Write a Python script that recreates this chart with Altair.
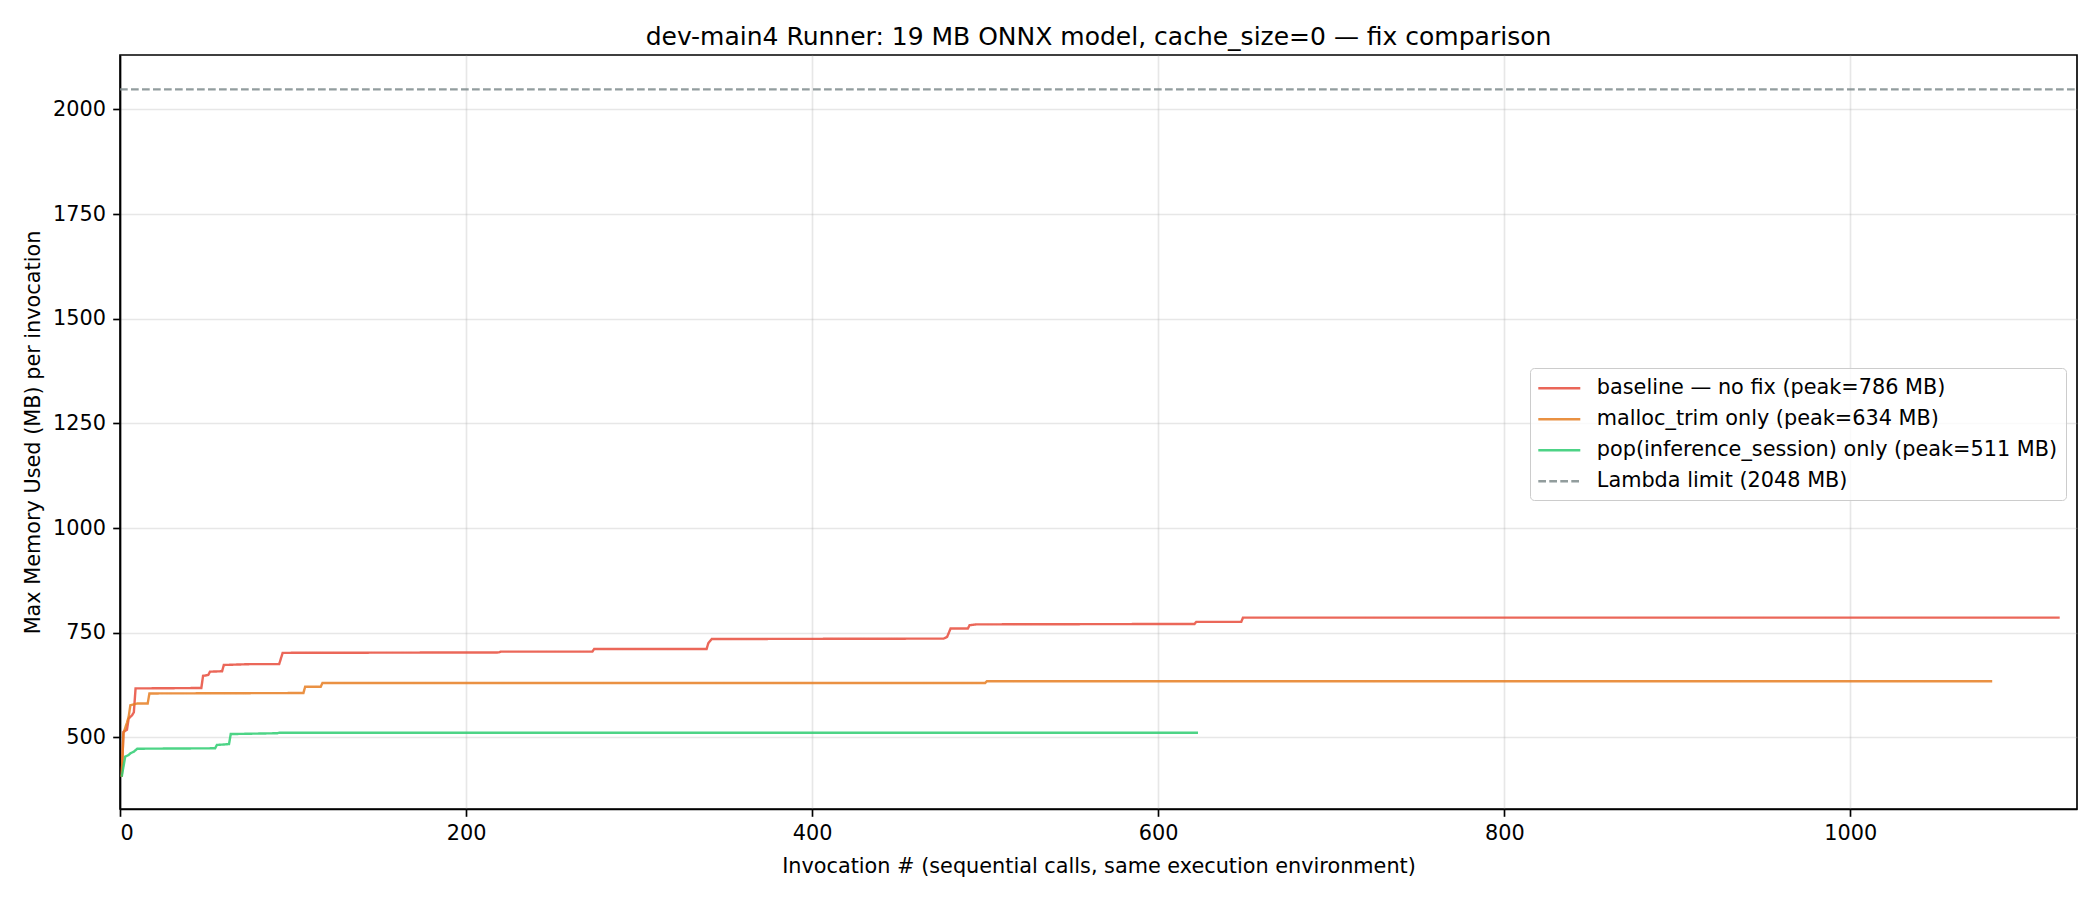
import altair as alt
import pandas as pd

title_text = "dev-main4 Runner: 19 MB ONNX model, cache_size=0 \u2014 fix comparison"
x_title = "Invocation # (sequential calls, same execution environment)"
y_title = "Max Memory Used (MB) per invocation"

series_labels = [
    "baseline \u2014 no fix (peak=786 MB)",
    "malloc_trim only (peak=634 MB)",
    "pop(inference_session) only (peak=511 MB)",
    "Lambda limit (2048 MB)",
]
series_colors = ["#e74c3c", "#e67e22", "#2ecc71", "#7f8c8d"]
series_dashes = [[1, 0], [1, 0], [1, 0], [7.7, 3.3]]

# step vertices (invocation #, MB)
baseline_x = [1, 2, 4, 5, 7, 8, 9, 47, 48, 51, 52, 59, 60, 75, 92, 94, 219, 220, 273, 274,
              339, 340, 342, 476, 478, 480, 490, 491, 495, 621, 622, 648, 649, 1121]
baseline_y = [406, 513, 518, 545, 553, 560, 617, 618, 647, 649, 657, 658, 673, 675, 675, 702, 703, 705, 705, 711,
              711, 725, 735, 736, 740, 760, 760, 768, 770, 771, 776, 776, 786, 786]

trim_x = [1, 2, 4, 5, 6, 10, 16, 17, 106, 107, 116, 117, 500, 501, 1082]
trim_y = [406, 510, 535, 549, 577, 581, 581, 605, 606, 621, 621, 630, 630, 634, 634]

pop_x = [1, 3, 5, 6, 8, 10, 55, 56, 63, 64, 91, 92, 623]
pop_y = [406, 454, 458, 462, 466, 473, 474, 482, 484, 508, 510, 511, 511]

limit_mb = 2048
x_domain = [0, 1131]
y_domain = [329, 2130]
x_ticks = [0, 200, 400, 600, 800, 1000]
y_ticks = [500, 750, 1000, 1250, 1500, 1750, 2000]

rows = []
for label, xs, ys in [
    (series_labels[0], baseline_x, baseline_y),
    (series_labels[1], trim_x, trim_y),
    (series_labels[2], pop_x, pop_y),
    (series_labels[3], x_domain, [limit_mb, limit_mb]),
]:
    for xv, yv in zip(xs, ys):
        rows.append({"series": label, "invocation": xv, "mb": yv})
df = pd.DataFrame(rows)

FONT = "DejaVu Sans"

legend_kw = dict(
    title=None,
    orient="none",
    legendX=1410,
    legendY=313,
    symbolType="M-2,0H2",
    symbolSize=441,
    symbolStrokeWidth=2.4,
    symbolOffset=9,
    labelFontSize=20.8,
    labelFont=FONT,
    labelColor="black",
    labelOffset=25.5,
    labelLimit=0,
    rowPadding=9,
    padding=8.3,
    strokeColor="#cccccc",
    fillColor="rgba(255,255,255,0.8)",
    cornerRadius=4,
)

chart = alt.Chart(df).mark_line(strokeWidth=2.4, opacity=0.85, clip=True).encode(
    x=alt.X("invocation:Q",
            scale=alt.Scale(domain=x_domain, nice=False, zero=False),
            axis=alt.Axis(values=x_ticks, title=x_title, format="d")),
    y=alt.Y("mb:Q",
            scale=alt.Scale(domain=y_domain, nice=False, zero=False),
            axis=alt.Axis(values=y_ticks, title=y_title, format="d")),
    color=alt.Color("series:N",
                    scale=alt.Scale(domain=series_labels, range=series_colors),
                    legend=alt.Legend(**legend_kw)),
    strokeDash=alt.StrokeDash("series:N",
                              scale=alt.Scale(domain=series_labels, range=series_dashes),
                              legend=alt.Legend(**legend_kw)),
).properties(
    width=1957,
    height=754,
    title=alt.TitleParams(title_text, fontSize=25, font=FONT, fontWeight="normal",
                          color="black", anchor="middle", offset=5),
    padding={"left": 120, "top": 55, "right": 23, "bottom": 91},
    autosize=alt.AutoSizeParams(type="none"),
).configure_view(
    stroke="black", strokeWidth=1.67
).configure_axis(
    labelFont=FONT, titleFont=FONT,
    labelFontSize=20.8, titleFontSize=20.8,
    labelColor="black", titleColor="black",
    titleFontWeight="normal",
    domainColor="black", domainWidth=1.67,
    tickColor="black", tickWidth=1.67, tickSize=7.3,
    labelPadding=7.3,
    grid=True, gridColor="#b0b0b0", gridOpacity=0.3, gridWidth=1.67,
).configure_axisX(
    titlePadding=13
).configure_axisY(
    titlePadding=9
)

chart.save("out.html", embed_options={"renderer": "svg", "actions": False})
